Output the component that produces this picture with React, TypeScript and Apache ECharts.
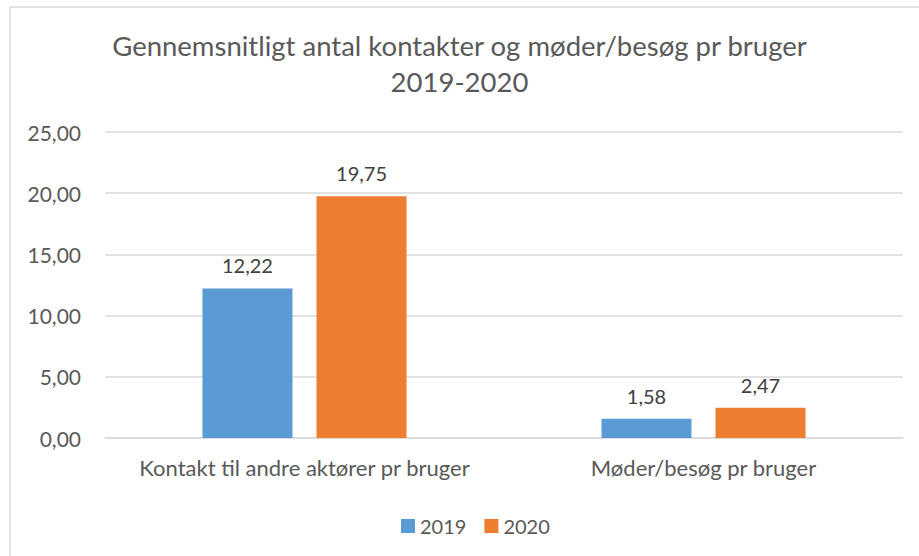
import React, { useEffect, useRef } from "react";
import * as echarts from "echarts";

const categories = ["Kontakt til andre aktører pr bruger", "Møder/besøg pr bruger"];
const seriesNames = ["2019", "2020"];
const values2019 = [12.22, 1.58];
const values2020 = [19.75, 2.47];
const colors = ["#5B9BD5", "#ED7D31"];
const titleText = "Gennemsnitligt antal kontakter og møder/besøg pr bruger\n2019-2020";

const fmt = (v: number) => v.toFixed(2).replace(".", ",");

export default function App() {
  const ref = useRef<HTMLDivElement>(null);
  useEffect(() => {
    if (!ref.current) return;
    const chart = echarts.init(ref.current, undefined, { renderer: "svg" });
    const font = "Lato, 'Open Sans', sans-serif";
    const dataLabel = {
      show: true,
      position: "top",
      distance: 13,
      fontFamily: font,
      fontSize: 20,
      color: "#404040",
      formatter: (p: any) => fmt(p.value),
    };
    chart.setOption({
      animation: false,
      backgroundColor: "#ffffff",
      textStyle: { fontFamily: font },
      graphic: [
        {
          type: "rect",
          shape: { x: 10, y: 7, width: 940, height: 580 },
          style: { fill: "none", stroke: "#d9d9d9", lineWidth: 1.5 },
          silent: true,
        },
      ],
      title: {
        text: titleText,
        left: "center",
        top: 22,
        textStyle: {
          fontFamily: font,
          fontSize: 27.5,
          fontWeight: "normal",
          color: "#595959",
          lineHeight: 36,
        },
      },
      legend: {
        top: 511,
        left: 396,
        itemWidth: 14,
        itemHeight: 14,
        itemGap: 18,
        icon: "rect",
        textStyle: { fontFamily: font, fontSize: 20, color: "#595959" },
        data: seriesNames,
      },
      grid: { left: 105, right: 16, top: 132, bottom: 118 },
      xAxis: {
        type: "category",
        data: categories,
        axisLine: { show: true, lineStyle: { color: "#d9d9d9", width: 1.5 } },
        axisTick: { show: false },
        axisLabel: {
          interval: 0,
          hideOverlap: false,
          fontFamily: font,
          fontSize: 22,
          color: "#595959",
          margin: 18,
        },
      },
      yAxis: {
        type: "value",
        min: 0,
        max: 25,
        interval: 5,
        axisLine: { show: false },
        axisTick: { show: false },
        splitLine: { lineStyle: { color: "#d9d9d9", width: 1.5 } },
        axisLabel: {
          fontFamily: font,
          fontSize: 21,
          color: "#595959",
          margin: 24,
          formatter: (v: number) => fmt(v),
        },
      },
      series: [
        {
          name: seriesNames[0],
          type: "bar",
          data: values2019,
          barWidth: 90,
          barGap: "26.7%",
          itemStyle: { color: colors[0] },
          label: dataLabel,
        },
        {
          name: seriesNames[1],
          type: "bar",
          data: values2020,
          barWidth: 90,
          barGap: "26.7%",
          itemStyle: { color: colors[1] },
          label: dataLabel,
        },
      ],
    });
    return () => chart.dispose();
  }, []);
  return (
    <div
      ref={ref}
      style={{ position: "absolute", left: 0, top: 0, width: 919, height: 556 }}
    />
  );
}
